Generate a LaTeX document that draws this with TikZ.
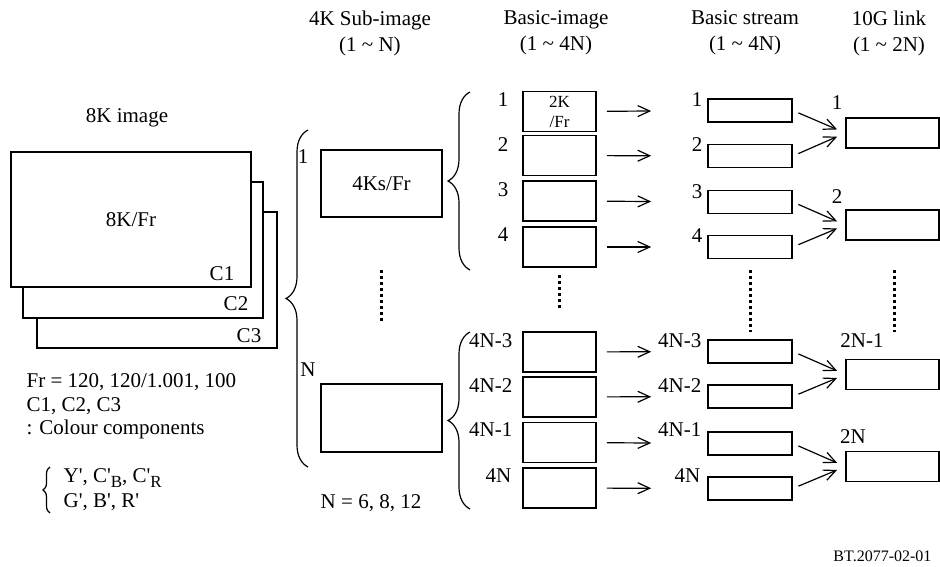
\documentclass[tikz,border=0pt]{standalone}
\usepackage{fontspec}
\setmainfont{Liberation Serif}
\usetikzlibrary{arrows.meta,decorations.pathreplacing}

\newcommand{\lowsub}[1]{\raisebox{-5pt}{\fontsize{17}{17}\selectfont #1}}
\newcommand{\pr}{\textquotesingle}

\begin{document}
\begin{tikzpicture}[x=1pt, y=-1pt, line width=1.2pt,
			every node/.style={font=\fontsize{21}{26}\selectfont, inner sep=0pt},
			layer/.style={draw, fill=white, minimum width=240pt, minimum height=136pt},
			subbox/.style={draw, minimum width=121pt, minimum height=67pt},
			basicbox/.style={draw, line width=1.7pt, minimum width=73pt, minimum height=40pt},
			streambox/.style={draw, line width=1.7pt, minimum width=84pt, minimum height=23pt},
			linkbox/.style={draw, minimum width=93pt, minimum height=30pt},
			arr/.style={-{Straight Barb[length=12pt,width=11pt]}},
			vdots/.style={line width=3pt, dash pattern=on 3pt off 3pt},
			curly/.style={decorate, decoration={brace, amplitude=#1}}]

		\useasboundingbox (0,0) rectangle (940,566);

		% column heads
		\node[align=center] (hsub) at (370,33) {4K Sub-image\\(1 \textasciitilde{} N)};
		\node[align=center] (hbasic) at (556,33) {Basic-image\\(1 \textasciitilde{} 4N)};
		\node[align=center] (hstream) at (745,33) {Basic stream\\(1 \textasciitilde{} 4N)};
		\node[align=center] (hlink) at (889,33) {10G link\\(1 \textasciitilde{} 2N)};

		% 8K image
		\node (h8k) at (127,118) {8K image};
		\node[layer] (c3) at (157,280) {};
		\node[layer] (c2) at (143,250) {};
		\node[layer, minimum height=135pt] (c1) at (131,219.5) {8K/Fr};
		\node (c1lbl) at (222,274) {C1};
		\node (c2lbl) at (236,304) {C2};
		\node (c3lbl) at (249,336) {C3};

		\node[align=left, anchor=west, font=\fontsize{21}{23.5}\selectfont] (frtxt) at (26,406.5)
			{Fr = 120, 120/1.001, 100\\C1, C2, C3\\: Colour components};
		\node[align=left, anchor=west, font=\fontsize{21}{25}\selectfont] (ygtxt) at (63,490)
			{Y\pr, C\pr\lowsub{B}, C\pr\lowsub{R}\\G\pr, B\pr, R\pr};
		\draw[curly=7pt] (50,513) -- (50,467);

		% 4K sub-images
		\draw[curly=22pt] (308,467) -- (308,130);
		\node (sub1lbl) at (303,157) {1};
		\node (subnlbl) at (308,370) {N};
		\node[subbox] (sub1) at (381.5,183.5) {4Ks/Fr};
		\node[subbox, minimum height=68pt] (subn) at (381.5,418) {};
		\draw[vdots] (381,270) -- (381,323);
		\node (ntxt) at (371,503) {N = 6, 8, 12};

		% basic images
		\draw[curly=22pt] (470,270) -- (470,92);
		\draw[curly=22pt] (470,509) -- (470,332);
		\node[basicbox, align=center, font=\fontsize{17}{20}\selectfont] (b1) at (559.5,111.5) {2K\\/Fr};
		\node[basicbox] (b2) at (559.5,155.5) {};
		\node[basicbox] (b3) at (559.5,201) {};
		\node[basicbox] (b4) at (559.5,247) {};
		\node[basicbox] (bn3) at (559.5,352) {};
		\node[basicbox] (bn2) at (559.5,397) {};
		\node[basicbox] (bn1) at (559.5,442.5) {};
		\node[basicbox] (bn) at (559.5,488) {};
		\node (bl1) at (503,100) {1};
		\node (bl2) at (503,145) {2};
		\node (bl3) at (503,190) {3};
		\node (bl4) at (503,235) {4};
		\node[anchor=east] (bln3) at (513,341) {4N-3};
		\node[anchor=east] (bln2) at (513,386) {4N-2};
		\node[anchor=east] (bln1) at (513,430) {4N-1};
		\node (bln) at (498.5,476) {4N};
		\draw[vdots] (559,275) -- (559,310);

		% basic streams
		\node[streambox] (s1) at (750,110.5) {};
		\node[streambox] (s2) at (750,156) {};
		\node[streambox] (s3) at (750,202) {};
		\node[streambox] (s4) at (750,247) {};
		\node[streambox] (sn3) at (750,351.5) {};
		\node[streambox] (sn2) at (750,396.5) {};
		\node[streambox] (sn1) at (750,443.5) {};
		\node[streambox] (sn) at (750,488.5) {};
		\node (sl1) at (697,100) {1};
		\node (sl2) at (697,145) {2};
		\node (sl3) at (697,192) {3};
		\node (sl4) at (697,236) {4};
		\node[anchor=east] (sln3) at (702,341) {4N-3};
		\node[anchor=east] (sln2) at (702,386) {4N-2};
		\node[anchor=east] (sln1) at (702,430) {4N-1};
		\node[anchor=east] (sln) at (701,476) {4N};
		\draw[vdots] (750,270) -- (750,332);

		% 10G links
		\node[linkbox] (l1) at (892.5,133) {};
		\node[linkbox] (l2) at (892.5,225) {};
		\node[linkbox] (ln1) at (892.5,374.5) {};
		\node[linkbox] (ln) at (892.5,466.5) {};
		\node (ll1) at (837,103) {1};
		\node (ll2) at (837,197) {2};
		\node (lln1) at (862,341) {2N-1};
		\node (lln) at (853,437) {2N};
		\draw[vdots] (894,270) -- (894,332);

		\draw[arr, shorten <=10pt, shorten >=56pt] (b1) -- (s1);
		\draw[arr, shorten <=10pt, shorten >=56pt] (b2) -- (s2);
		\draw[arr, shorten <=10pt, shorten >=56pt] (b3) -- (s3);
		\draw[arr, shorten <=10pt, shorten >=56pt] (b4) -- (s4);
		\draw[arr, shorten <=10pt, shorten >=56pt] (bn3) -- (sn3);
		\draw[arr, shorten <=10pt, shorten >=56pt] (bn2) -- (sn2);
		\draw[arr, shorten <=10pt, shorten >=56pt] (bn1) -- (sn1);
		\draw[arr, shorten <=10pt, shorten >=56pt] (bn) -- (sn);

		\draw[arr, shorten <=6pt, shorten >=9pt] (s1.east) -- (l1.west);
		\draw[arr, shorten <=6pt, shorten >=9pt] (s2.east) -- (l1.west);
		\draw[arr, shorten <=6pt, shorten >=9pt] (s3.east) -- (l2.west);
		\draw[arr, shorten <=6pt, shorten >=9pt] (s4.east) -- (l2.west);
		\draw[arr, shorten <=6pt, shorten >=9pt] (sn3.east) -- (ln1.west);
		\draw[arr, shorten <=6pt, shorten >=9pt] (sn2.east) -- (ln1.west);
		\draw[arr, shorten <=6pt, shorten >=9pt] (sn1.east) -- (ln.west);
		\draw[arr, shorten <=6pt, shorten >=9pt] (sn.east) -- (ln.west);

		\node[anchor=east, font=\fontsize{16}{18}\selectfont] (figid) at (932,556) {BT.2077-02-01};
	\end{tikzpicture}
\end{document}
